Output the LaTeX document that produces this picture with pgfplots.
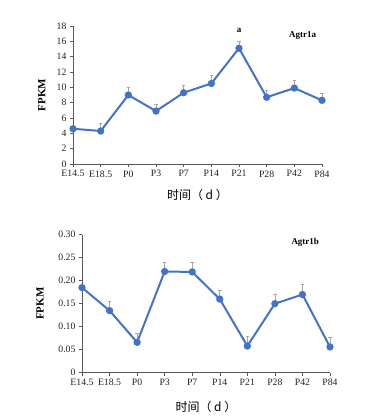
\documentclass[border=0pt]{standalone}
\usepackage{pgfplots}
\pgfplotsset{compat=1.18}
\usepackage{fontspec}
\setmainfont{Liberation Serif}
\newfontfamily\cjk{Noto Sans CJK SC}
\definecolor{lineblue}{HTML}{4472C4}
\definecolor{axgray}{HTML}{595959}
\pgfplotsset{
  myaxis/.style={
    scale only axis,
    axis lines*=left,
    axis line style={axgray, line width=0.6pt},
    tick style={axgray, line width=0.5pt},
    tick align=outside,
    major tick length=3bp,
    xmin=0, xmax=9,
    xtick={0,...,9},
    xticklabels={E14.5,E18.5,P0,P3,P7,P14,P21,P28,P42,P84},
    tick label style={font=\fontsize{9.8}{11}\selectfont, text=black!85},
    /pgf/number format/assume math mode=true,
    ylabel={FPKM},
    ylabel style={font=\fontsize{11}{12}\selectfont\bfseries, rotate=0, anchor=center},
    xlabel={\cjk 时间（ d ）},
    xlabel style={font=\fontsize{12}{13}\selectfont, anchor=center},
    clip=false,
  },
  myline/.style={
    lineblue, line width=2pt, mark=*, mark size=2.6pt,
    mark options={fill=lineblue, draw=lineblue},
    error bars/.cd, y dir=plus, y explicit,
    error bar style={gray!70, line width=0.7pt},
    error mark options={gray!70, line width=0.7pt, rotate=90, mark size=1.8pt},
  },
}
\begin{document}
\begin{tikzpicture}
\path[use as bounding box, fill=white] (0,0) rectangle (391bp,420bp);
% top chart
\begin{axis}[myaxis,
  at={(73bp,256bp)}, anchor=origin,
  width=249bp, height=138bp,
  ymin=0, ymax=18, ytick={0,2,...,18},
  ylabel style={at={(axis description cs:-0.125,0.5)}},
  xlabel style={at={(axis description cs:0.5,-0.225)}},
]
\addplot+[myline] coordinates {
(0,4.6) +- (0,0.0)
(1,4.3) +- (0,1.0)
(2,9.0) +- (0,1.0)
(3,6.9) +- (0,0.9)
(4,9.3) +- (0,1.0)
(5,10.5) +- (0,1.0)
(6,15.1) +- (0,0.9)
(7,8.7) +- (0,0.9)
(8,9.9) +- (0,1.0)
(9,8.3) +- (0,0.9)
};
\node[font=\fontsize{9}{10}\selectfont\bfseries] at (axis cs:6,17.4) {a};
\node[font=\fontsize{9}{10}\selectfont\bfseries] at (axis cs:8.3,16.8) {Agtr1a};
\end{axis}
% bottom chart
\begin{axis}[myaxis,
  at={(82bp,47.3bp)}, anchor=origin,
  width=248bp, height=138bp,
  ymin=0, ymax=0.30,
  ytick={0,0.05,0.10,0.15,0.20,0.25,0.30},
  yticklabels={0,0.05,0.10,0.15,0.20,0.25,0.30},
  ylabel style={at={(axis description cs:-0.169,0.5)}},
  xlabel style={at={(axis description cs:0.5,-0.246)}},
]
\addplot+[myline] coordinates {
(0,0.185) +- (0,0.0)
(1,0.135) +- (0,0.020)
(2,0.066) +- (0,0.020)
(3,0.220) +- (0,0.019)
(4,0.219) +- (0,0.020)
(5,0.160) +- (0,0.020)
(6,0.058) +- (0,0.020)
(7,0.150) +- (0,0.020)
(8,0.170) +- (0,0.021)
(9,0.056) +- (0,0.021)
};
\node[font=\fontsize{9}{10}\selectfont\bfseries] at (axis cs:8.1,0.283) {Agtr1b};
\end{axis}
\end{tikzpicture}
\end{document}
